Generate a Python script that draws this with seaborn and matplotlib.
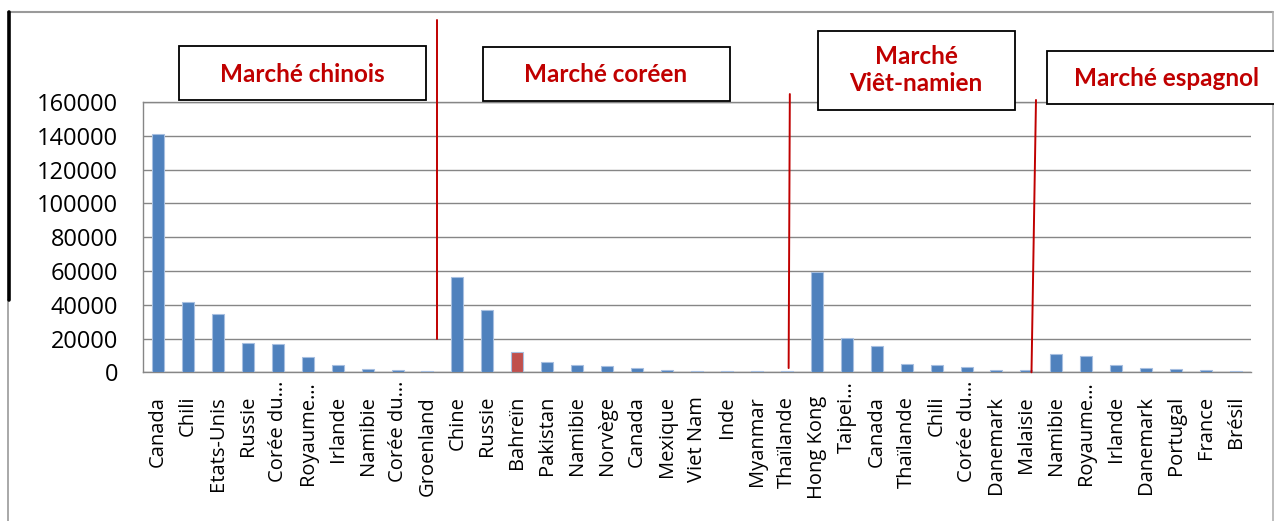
import matplotlib
matplotlib.use("Agg")
import matplotlib.pyplot as plt
import matplotlib.patches as mpatches
from matplotlib.lines import Line2D
from matplotlib.transforms import ScaledTranslation
import seaborn as sns
import pandas as pd

# Pays de destination, par marché
pays = ["Canada", "Chili", "Etats-Unis", "Russie", "Corée du…", "Royaume…",
        "Irlande", "Namibie", "Corée du…", "Groenland",
        "Chine", "Russie", "Bahreïn", "Pakistan", "Namibie", "Norvège",
        "Canada", "Mexique", "Viet Nam", "Inde", "Myanmar", "Thaïlande",
        "Hong Kong", "Taipei…", "Canada", "Thaïlande", "Chili", "Corée du…",
        "Danemark", "Malaisie",
        "Namibie", "Royaume…", "Irlande", "Danemark", "Portugal", "France",
        "Brésil"]

volumes = [141000, 41700, 34600, 17200, 16800, 8900, 4150, 2000, 1200, 1000,
           56200, 37000, 12000, 5900, 4300, 3600, 2500, 1400, 1000, 900, 700, 700,
           59100, 20200, 15600, 4700, 4100, 3100, 1300, 1100,
           10700, 9500, 4300, 2500, 2000, 1300, 700]

# Bahreïn mis en évidence
mise_en_avant = ["Bahreïn"]

marches = ["Marché chinois", "Marché coréen", "Marché\nViêt-namien", "Marché espagnol"]

yticks = [0, 20000, 40000, 60000, 80000, 100000, 120000, 140000, 160000]

BLEU = "#4F81BD"
ROUGE_BARRE = "#C0504D"
ROUGE = "#C00000"
GRIS = "#868686"

df = pd.DataFrame({
    "pos": list(range(len(pays))),
    "volume": volumes,
    "couleur": ["rouge" if p in mise_en_avant else "bleu" for p in pays],
})

W, H = 1274, 521
fig = plt.figure(figsize=(W / 100, H / 100), dpi=100)
sns.set_style("white")
plt.rcParams["font.family"] = ["Open Sans", "DejaVu Sans"]

def fx(px):
    return px / W

def fy(py):
    return 1 - py / H

ax = fig.add_axes([fx(143), fy(372.3), fx(1251) - fx(143), fy(102) - fy(372.3)])

sns.barplot(data=df, x="pos", y="volume", hue="couleur",
            palette={"bleu": BLEU, "rouge": ROUGE_BARRE}, saturation=1,
            order=list(range(len(pays))), dodge=False, width=0.4,
            edgecolor="#A7BFE0", linewidth=0.8, legend=False, ax=ax, zorder=3)

ax.set_xlim(-0.5, len(pays) - 0.5)
ax.set_ylim(0, 160000)
ax.set_yticks(yticks)
ax.set_yticklabels([str(v) for v in yticks])
ax.set_xticks(range(len(pays)))
ax.set_xticklabels(pays, rotation=90, ha="center", va="top")
ax.set_xlabel("")
ax.set_ylabel("")

ax.yaxis.grid(True, color=GRIS, linewidth=1.0, zorder=0)
ax.xaxis.grid(False)
ax.set_axisbelow(True)
for side in ["left", "bottom", "top"]:
    ax.spines[side].set_visible(True)
    ax.spines[side].set_color(GRIS)
    ax.spines[side].set_linewidth(1.0)
ax.spines["right"].set_visible(False)

ax.tick_params(axis="y", length=3, color=GRIS, pad=15, labelsize=17, labelcolor="black")
ax.tick_params(axis="x", length=0, pad=17, labelsize=14.5, labelcolor="black")

# les libellés tronqués dépassent un peu vers le haut
for lab in ax.get_xticklabels():
    if lab.get_text().endswith("…"):
        lab.set_transform(lab.get_transform() + ScaledTranslation(0, 15 / 100, fig.dpi_scale_trans))

# séparateurs entre marchés (coordonnées des données)
separateurs = [((9.32, 208500), (9.32, 20000)),
               ((21.1, 164700), (21.06, 2500)),
               ((29.32, 161200), (29.17, 0))]
for (x0, y0), (x1, y1) in separateurs:
    ax.add_line(Line2D([x0, x1], [y0, y1], color=ROUGE, linewidth=1.4,
                       clip_on=False, zorder=5))

# encadrés des marchés (pixels de la figure)
boites = [(179, 46, 426, 100), (483, 47, 730, 101),
          (818, 31, 1015, 110), (1047, 51, 1280, 104)]
centres = [(302, 74), (606, 74), (916, 70), (1166, 79)]
for (x0, y0, x1, y1), (cx, cy), titre in zip(boites, centres, marches):
    fig.patches.append(mpatches.Rectangle((fx(x0), fy(y1)), fx(x1) - fx(x0), fy(y0) - fy(y1),
                                          transform=fig.transFigure, facecolor="white",
                                          edgecolor="black", linewidth=1.3, zorder=6))
    fig.text(fx(cx), fy(cy), titre, ha="center", va="center", color=ROUGE,
             fontsize=17.5, fontweight="bold", family=["Lato", "DejaVu Sans"],
             linespacing=1.25, zorder=7)

# cadre extérieur
fig.add_artist(Line2D([fx(8), fx(1273)], [fy(12), fy(12)], color="#9a9a9a", linewidth=1.5,
                      transform=fig.transFigure))
fig.add_artist(Line2D([fx(1273), fx(1273)], [fy(12), fy(521)], color="#b0b0b0", linewidth=1.2,
                      transform=fig.transFigure))
fig.add_artist(Line2D([fx(8), fx(8)], [fy(300), fy(521)], color="#9a9a9a", linewidth=1.2,
                      transform=fig.transFigure))
fig.add_artist(Line2D([fx(8.5), fx(8.5)], [fy(12), fy(300)], color="black", linewidth=2.6,
                      transform=fig.transFigure))

fig.savefig("out.png", dpi=100, facecolor="white")
